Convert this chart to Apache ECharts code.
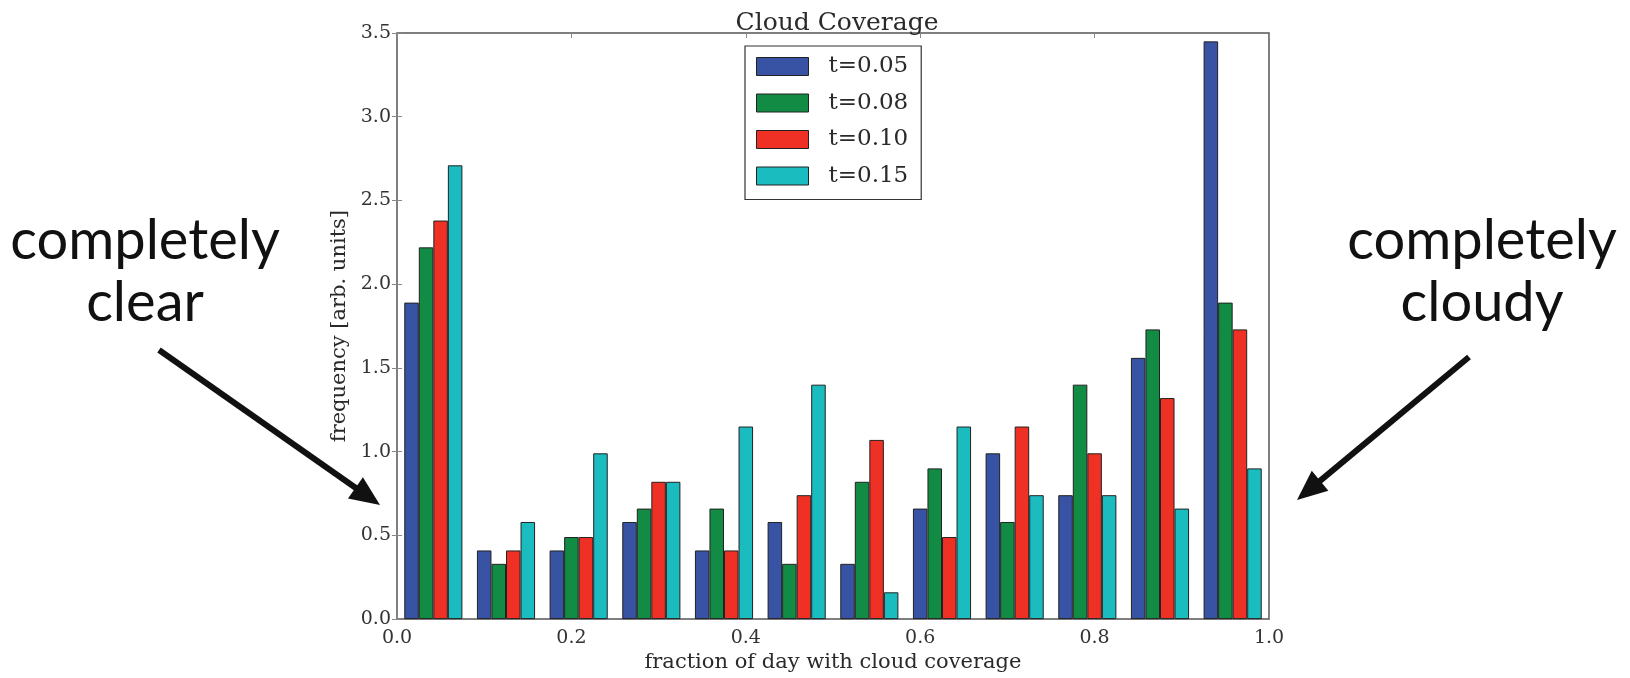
<!DOCTYPE html>
<html>
<head>
<meta charset="utf-8">
<title>Cloud Coverage</title>
<script src="https://cdn.jsdelivr.net/npm/echarts@6/dist/echarts.min.js"></script>
<style>
  html, body { margin: 0; padding: 0; background: #fff; }
  #chart { width: 1630px; height: 678px; }
</style>
</head>
<body>
<div id="chart"></div>
<script>
// Histogram bins (lower edges) over the fraction of the day with cloud coverage
const binStarts = ['0.000', '0.083', '0.167', '0.250', '0.333', '0.417',
                   '0.500', '0.583', '0.667', '0.750', '0.833', '0.917'];

// Normalised frequency per bin, one list per threshold t
const seriesNames = ['t=0.05', 't=0.08', 't=0.10', 't=0.15'];
const freqT005 = [1.89, 0.41, 0.41, 0.58, 0.41, 0.58, 0.33, 0.66, 0.99, 0.74, 1.56, 3.45];
const freqT008 = [2.22, 0.33, 0.49, 0.66, 0.66, 0.33, 0.82, 0.90, 0.58, 1.40, 1.73, 1.89];
const freqT010 = [2.38, 0.41, 0.49, 0.82, 0.41, 0.74, 1.07, 0.49, 1.15, 0.99, 1.32, 1.73];
const freqT015 = [2.71, 0.58, 0.99, 0.82, 1.15, 1.40, 0.16, 1.15, 0.74, 0.74, 0.66, 0.90];

// Axis tick values
const xTickValues = [0.0, 0.2, 0.4, 0.6, 0.8, 1.0];
const yTickValues = [0.0, 0.5, 1.0, 1.5, 2.0, 2.5, 3.0, 3.5];

const seriesColors = ['#3953a4', '#128b44', '#ee3124', '#1bbcbf'];
const seriesData = [freqT005, freqT008, freqT010, freqT015];

const serif = 'DejaVu Serif';
const textColor = '#2a2a2a';

const chart = echarts.init(document.getElementById('chart'), null, { renderer: 'canvas' });

// Thick black arrow made of a shaft and a triangular head
function arrow(tail, tip) {
  const dx = tip[0] - tail[0], dy = tip[1] - tail[1];
  const len = Math.hypot(dx, dy);
  const ux = dx / len, uy = dy / len;
  const headLen = 30, headHalf = 13;
  const bx = tip[0] - ux * headLen, by = tip[1] - uy * headLen;
  return [
    {
      type: 'line',
      shape: { x1: tail[0], y1: tail[1], x2: bx + ux * 4, y2: by + uy * 4 },
      style: { stroke: '#111', lineWidth: 6 }
    },
    {
      type: 'polygon',
      shape: { points: [tip, [bx - uy * headHalf, by + ux * headHalf], [bx + uy * headHalf, by - ux * headHalf]] },
      style: { fill: '#111' }
    }
  ];
}

// Large side caption, centred on (cx, cy)
function note(text, cx, cy) {
  return {
    type: 'text',
    x: cx, y: cy,
    style: {
      text: text,
      x: 0, y: 0,
      align: 'center',
      verticalAlign: 'middle',
      font: '400 56px Lato',
      fill: '#111'
    }
  };
}

const option = {
  backgroundColor: '#ffffff',
  animation: false,
  title: {
    text: 'Cloud Coverage',
    left: 832,
    textAlign: 'center',
    top: 6,
    textStyle: { fontFamily: serif, fontSize: 25, fontWeight: 'normal', color: textColor }
  },
  legend: {
    orient: 'vertical',
    left: 745,
    top: 46,
    padding: [9, 13, 12, 11],
    itemWidth: 52,
    itemHeight: 18,
    itemGap: 13.5,
    icon: 'rect',
    borderColor: '#333',
    borderWidth: 1.2,
    backgroundColor: '#fff',
    data: seriesNames,
    itemStyle: { borderColor: '#222', borderWidth: 1 },
    textStyle: { fontFamily: serif, fontSize: 23, color: textColor, padding: [0, 0, 0, 15] }
  },
  grid: {
    left: 397, right: 361, top: 33, bottom: 58,
    show: true,
    borderColor: '#555',
    borderWidth: 1.5,
    backgroundColor: 'transparent'
  },
  xAxis: [
    {
      type: 'category',
      data: binStarts,
      show: false,
      boundaryGap: true
    },
    {
      type: 'value',
      position: 'bottom',
      min: xTickValues[0],
      max: xTickValues[xTickValues.length - 1],
      interval: 0.2,
      axisLine: { show: false },
      splitLine: { show: false },
      axisTick: { show: true, inside: true, length: 5, lineStyle: { color: '#888', width: 1 } },
      axisLabel: {
        fontFamily: serif, fontSize: 19, color: '#333', margin: 9,
        formatter: v => v.toFixed(1)
      },
      name: 'fraction of day with cloud coverage',
      nameLocation: 'middle',
      nameGap: 32,
      nameTextStyle: { fontFamily: serif, fontSize: 21, color: textColor }
    },
    {
      type: 'value',
      position: 'top',
      min: xTickValues[0],
      max: xTickValues[xTickValues.length - 1],
      interval: 0.2,
      axisLine: { show: false },
      splitLine: { show: false },
      axisLabel: { show: false },
      axisTick: { show: true, inside: true, length: 5, lineStyle: { color: '#888', width: 1 } }
    }
  ],
  yAxis: [
    {
      type: 'value',
      position: 'left',
      min: yTickValues[0],
      max: yTickValues[yTickValues.length - 1],
      interval: 0.5,
      axisLine: { show: false },
      splitLine: { show: false },
      axisTick: { show: true, inside: true, length: 5, lineStyle: { color: '#888', width: 1 } },
      axisLabel: {
        fontFamily: serif, fontSize: 19, color: '#333', margin: 6,
        formatter: v => v.toFixed(1)
      },
      name: 'frequency [arb. units]',
      nameLocation: 'middle',
      nameGap: 47,
      nameTextStyle: { fontFamily: serif, fontSize: 21, color: textColor }
    },
    {
      type: 'value',
      position: 'right',
      min: yTickValues[0],
      max: yTickValues[yTickValues.length - 1],
      interval: 0.5,
      axisLine: { show: false },
      splitLine: { show: false },
      axisLabel: { show: false },
      axisTick: { show: true, inside: true, length: 5, lineStyle: { color: '#888', width: 1 } }
    }
  ],
  series: seriesNames.map((name, i) => ({
    name: name,
    type: 'bar',
    xAxisIndex: 0,
    yAxisIndex: 0,
    data: seriesData[i],
    barGap: '0%',
    barCategoryGap: '20%',
    itemStyle: { color: seriesColors[i], borderColor: '#222', borderWidth: 1 }
  })),
  graphic: [
    note('completely', 145, 241),
    note('clear', 145, 303),
    note('completely', 1482, 241),
    note('cloudy', 1482, 303),
    ...arrow([159, 350], [380, 505]),
    ...arrow([1469, 357], [1297, 500])
  ]
};

chart.setOption(option);
</script>
</body>
</html>
